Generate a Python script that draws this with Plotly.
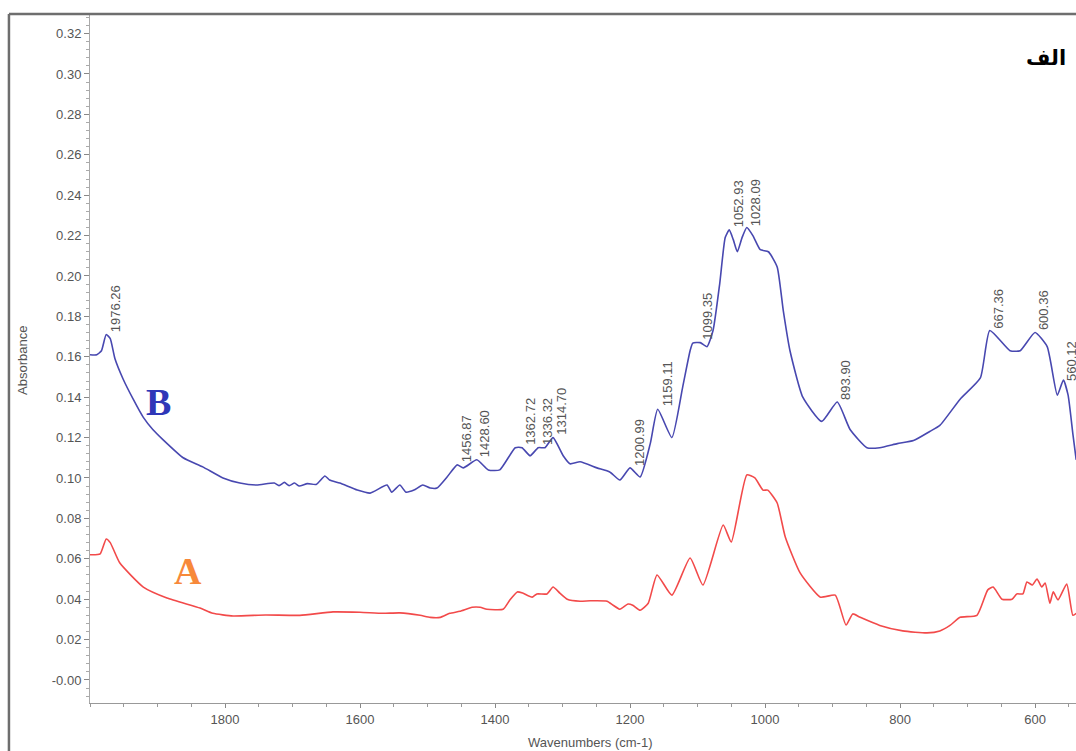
import numpy as np
import plotly.graph_objects as go

# ---------------- data ----------------
wn_B = [2000, 1990, 1983, 1976, 1970, 1963, 1951, 1936, 1921, 1907, 1892, 1862, 1833, 1803,
        1778, 1753, 1727, 1720, 1712, 1705, 1697, 1690, 1678, 1665, 1652, 1645, 1630, 1604,
        1585, 1560, 1553, 1541, 1532, 1520, 1507, 1496, 1486, 1471, 1456, 1447, 1427, 1410,
        1393, 1370, 1360, 1348, 1336, 1326, 1314, 1299, 1289, 1274, 1249, 1230, 1215, 1200,
        1185, 1170, 1159, 1138, 1122, 1111, 1107, 1096, 1086, 1077, 1067, 1059, 1053, 1047,
        1041, 1034, 1027, 1018, 1007, 995, 982, 973, 963, 944, 916, 893, 874, 849, 830, 804,
        780, 756, 741, 711, 681, 667, 637, 622, 600, 582, 567, 558, 551, 544, 539]
abs_B = [0.161, 0.161, 0.163, 0.171, 0.169, 0.159, 0.149, 0.139, 0.130, 0.124, 0.119, 0.110,
         0.1055, 0.100, 0.0975, 0.0965, 0.0975, 0.0962, 0.0978, 0.0962, 0.0975, 0.0960,
         0.0972, 0.0968, 0.101, 0.099, 0.0975, 0.094, 0.0925, 0.0965, 0.093, 0.0965, 0.093,
         0.094, 0.0965, 0.095, 0.095, 0.1005, 0.1065, 0.105, 0.109, 0.104, 0.104, 0.115,
         0.115, 0.111, 0.115, 0.115, 0.120, 0.111, 0.107, 0.108, 0.105, 0.103, 0.099, 0.105,
         0.1005, 0.117, 0.134, 0.120, 0.145, 0.163, 0.1668, 0.167, 0.165, 0.173, 0.1965,
         0.219, 0.2228, 0.218, 0.212, 0.219, 0.224, 0.220, 0.213, 0.212, 0.2045, 0.183,
         0.163, 0.140, 0.128, 0.1376, 0.124, 0.115, 0.115, 0.117, 0.1185, 0.123, 0.126,
         0.139, 0.1495, 0.173, 0.163, 0.163, 0.172, 0.165, 0.141, 0.1485, 0.141, 0.122, 0.109]

wn_A = [2000, 1985, 1976, 1970, 1956, 1921, 1886, 1837, 1818, 1788, 1740, 1689, 1640, 1600,
        1566, 1541, 1511, 1496, 1481, 1467, 1452, 1434, 1422, 1412, 1388, 1378, 1367, 1359,
        1345, 1338, 1323, 1314, 1304, 1293, 1274, 1259, 1234, 1225, 1215, 1203, 1196, 1185,
        1173, 1160, 1138, 1111, 1092, 1062, 1050, 1027, 1015, 1003, 996, 982, 970, 948, 918,
        896, 880, 870, 859, 830, 796, 760, 741, 726, 711, 686, 670, 662, 649, 634, 627, 618,
        612, 604, 597, 590, 585, 578, 573, 566, 553, 544, 539]
abs_A = [0.062, 0.0624, 0.0698, 0.068, 0.058, 0.046, 0.0406, 0.0356, 0.033, 0.0317, 0.0322,
         0.032, 0.0337, 0.0335, 0.033, 0.0332, 0.032, 0.031, 0.031, 0.033, 0.034, 0.036,
         0.036, 0.035, 0.035, 0.0396, 0.0436, 0.043, 0.041, 0.0426, 0.0426, 0.046, 0.043,
         0.040, 0.039, 0.0392, 0.039, 0.037, 0.035, 0.0376, 0.037, 0.0345, 0.038, 0.052,
         0.042, 0.0604, 0.047, 0.0767, 0.0683, 0.1015, 0.100, 0.094, 0.094, 0.0876, 0.0708,
         0.053, 0.041, 0.042, 0.0272, 0.0327, 0.031, 0.027, 0.0243, 0.0233, 0.0243, 0.027,
         0.031, 0.032, 0.0446, 0.046, 0.040, 0.040, 0.0426, 0.0426, 0.0485, 0.047, 0.050,
         0.046, 0.048, 0.038, 0.0436, 0.0396, 0.0475, 0.032, 0.033]

peak_labels = ["1976.26", "1456.87", "1428.60", "1362.72", "1336.32", "1314.70", "1200.99",
               "1159.11", "1099.35", "1052.93", "1028.09", "893.90", "667.36", "600.36", "560.12"]

y_tickvals = [0.00, 0.02, 0.04, 0.06, 0.08, 0.10, 0.12, 0.14, 0.16, 0.18, 0.20, 0.22, 0.24,
              0.26, 0.28, 0.30, 0.32]
y_ticktext = ["-0.00", "0.02", "0.04", "0.06", "0.08", "0.10", "0.12", "0.14", "0.16", "0.18",
              "0.20", "0.22", "0.24", "0.26", "0.28", "0.30", "0.32"]
x_tickvals = [1800, 1600, 1400, 1200, 1000, 800, 600]
x_ticktext = ["1800", "1600", "1400", "1200", "1000", "800", "600"]

# ---------------- figure ----------------
fig = go.Figure()
fig.add_trace(go.Scatter(x=wn_B, y=abs_B, mode="lines", name="B",
                         line=dict(color="#4848b0", width=1.6, shape="spline", smoothing=0.5),
                         hoverinfo="skip"))
fig.add_trace(go.Scatter(x=wn_A, y=abs_A, mode="lines", name="A",
                         line=dict(color="#f24a4a", width=1.6, shape="spline", smoothing=0.5),
                         hoverinfo="skip"))

wB_sorted = np.array(wn_B[::-1], dtype=float)
aB_sorted = np.array(abs_B[::-1], dtype=float)
annotations = []
for lab in peak_labels:
    w = float(lab)
    yv = float(np.interp(w, wB_sorted, aB_sorted))
    annotations.append(dict(x=w, y=yv, xref="x", yref="y", text=lab, textangle=-90,
                            showarrow=False, xanchor="left", yanchor="bottom", yshift=2,
                            xshift=1, borderpad=0,
                            font=dict(family="Liberation Sans, Arial", size=13, color="#555555")))

annotations += [
    dict(x=1899, y=0.1376, xref="x", yref="y", text="<b>B</b>", showarrow=False,
         xanchor="center", yanchor="middle",
         font=dict(family="Liberation Serif, Times New Roman", size=38, color="#2f37b8")),
    dict(x=1855, y=0.054, xref="x", yref="y", text="<b>A</b>", showarrow=False,
         xanchor="center", yanchor="middle",
         font=dict(family="Liberation Serif, Times New Roman", size=38, color="#f7893a")),
    dict(x=0.9696, y=0.9375, xref="paper", yref="paper", text="<b>الف</b>", showarrow=False,
         xanchor="center", yanchor="middle",
         font=dict(family="DejaVu Sans", size=21, color="#000000")),
    dict(x=-0.069, y=0.4985, xref="paper", yref="paper", text="Absorbance", textangle=-90,
         showarrow=False, xanchor="center", yanchor="middle",
         font=dict(family="Liberation Sans, Arial", size=13, color="#555555")),
    dict(x=0.507, y=-0.058, xref="paper", yref="paper", text="Wavenumbers (cm-1)",
         showarrow=False, xanchor="center", yanchor="middle",
         font=dict(family="Liberation Sans, Arial", size=13, color="#555555")),
]

shapes = [
    dict(type="line", xref="paper", yref="paper", x0=-0.0822, x1=1.01, y0=1.0015, y1=1.0015,
         line=dict(color="#6e6e6e", width=2.5)),
    dict(type="line", xref="paper", yref="paper", x0=-0.0822, x1=-0.0822, y0=1.0015, y1=-0.075,
         line=dict(color="#6e6e6e", width=2.5)),
]

fig.update_layout(
    width=1076, height=751,
    margin=dict(l=90, r=0, t=15, b=48),
    paper_bgcolor="white", plot_bgcolor="white",
    showlegend=False,
    annotations=annotations,
    shapes=shapes,
    xaxis=dict(range=[2000, 539.3], tickmode="array", tickvals=x_tickvals, ticktext=x_ticktext,
               showgrid=False, zeroline=False, showline=True, linecolor="#999999", linewidth=1,
               ticks="outside", ticklen=4, tickcolor="#888888",
               tickfont=dict(family="Liberation Sans, Arial", size=13, color="#555555"),
               minor=dict(dtick=50, tick0=0, ticks="outside", ticklen=3, tickcolor="#999999")),
    yaxis=dict(range=[-0.0114, 0.3292], tickmode="array", tickvals=y_tickvals,
               ticktext=y_ticktext, showgrid=False, zeroline=False, showline=True,
               linecolor="#aaaaaa", linewidth=1, ticks="outside", ticklen=5,
               tickcolor="#888888",
               tickfont=dict(family="Liberation Sans, Arial", size=13, color="#555555"),
               minor=dict(dtick=0.004, tick0=0, ticks="outside", ticklen=3,
                          tickcolor="#aaaaaa")),
)

# remove the browser's default body margin so the 1076x751 figure fills the window exactly
fig.write_html(
    "out.html",
    config={"displayModeBar": False},
    post_script="document.body.style.margin='0';"
                "document.documentElement.style.overflow='hidden';"
                "document.body.style.overflow='hidden';",
)
